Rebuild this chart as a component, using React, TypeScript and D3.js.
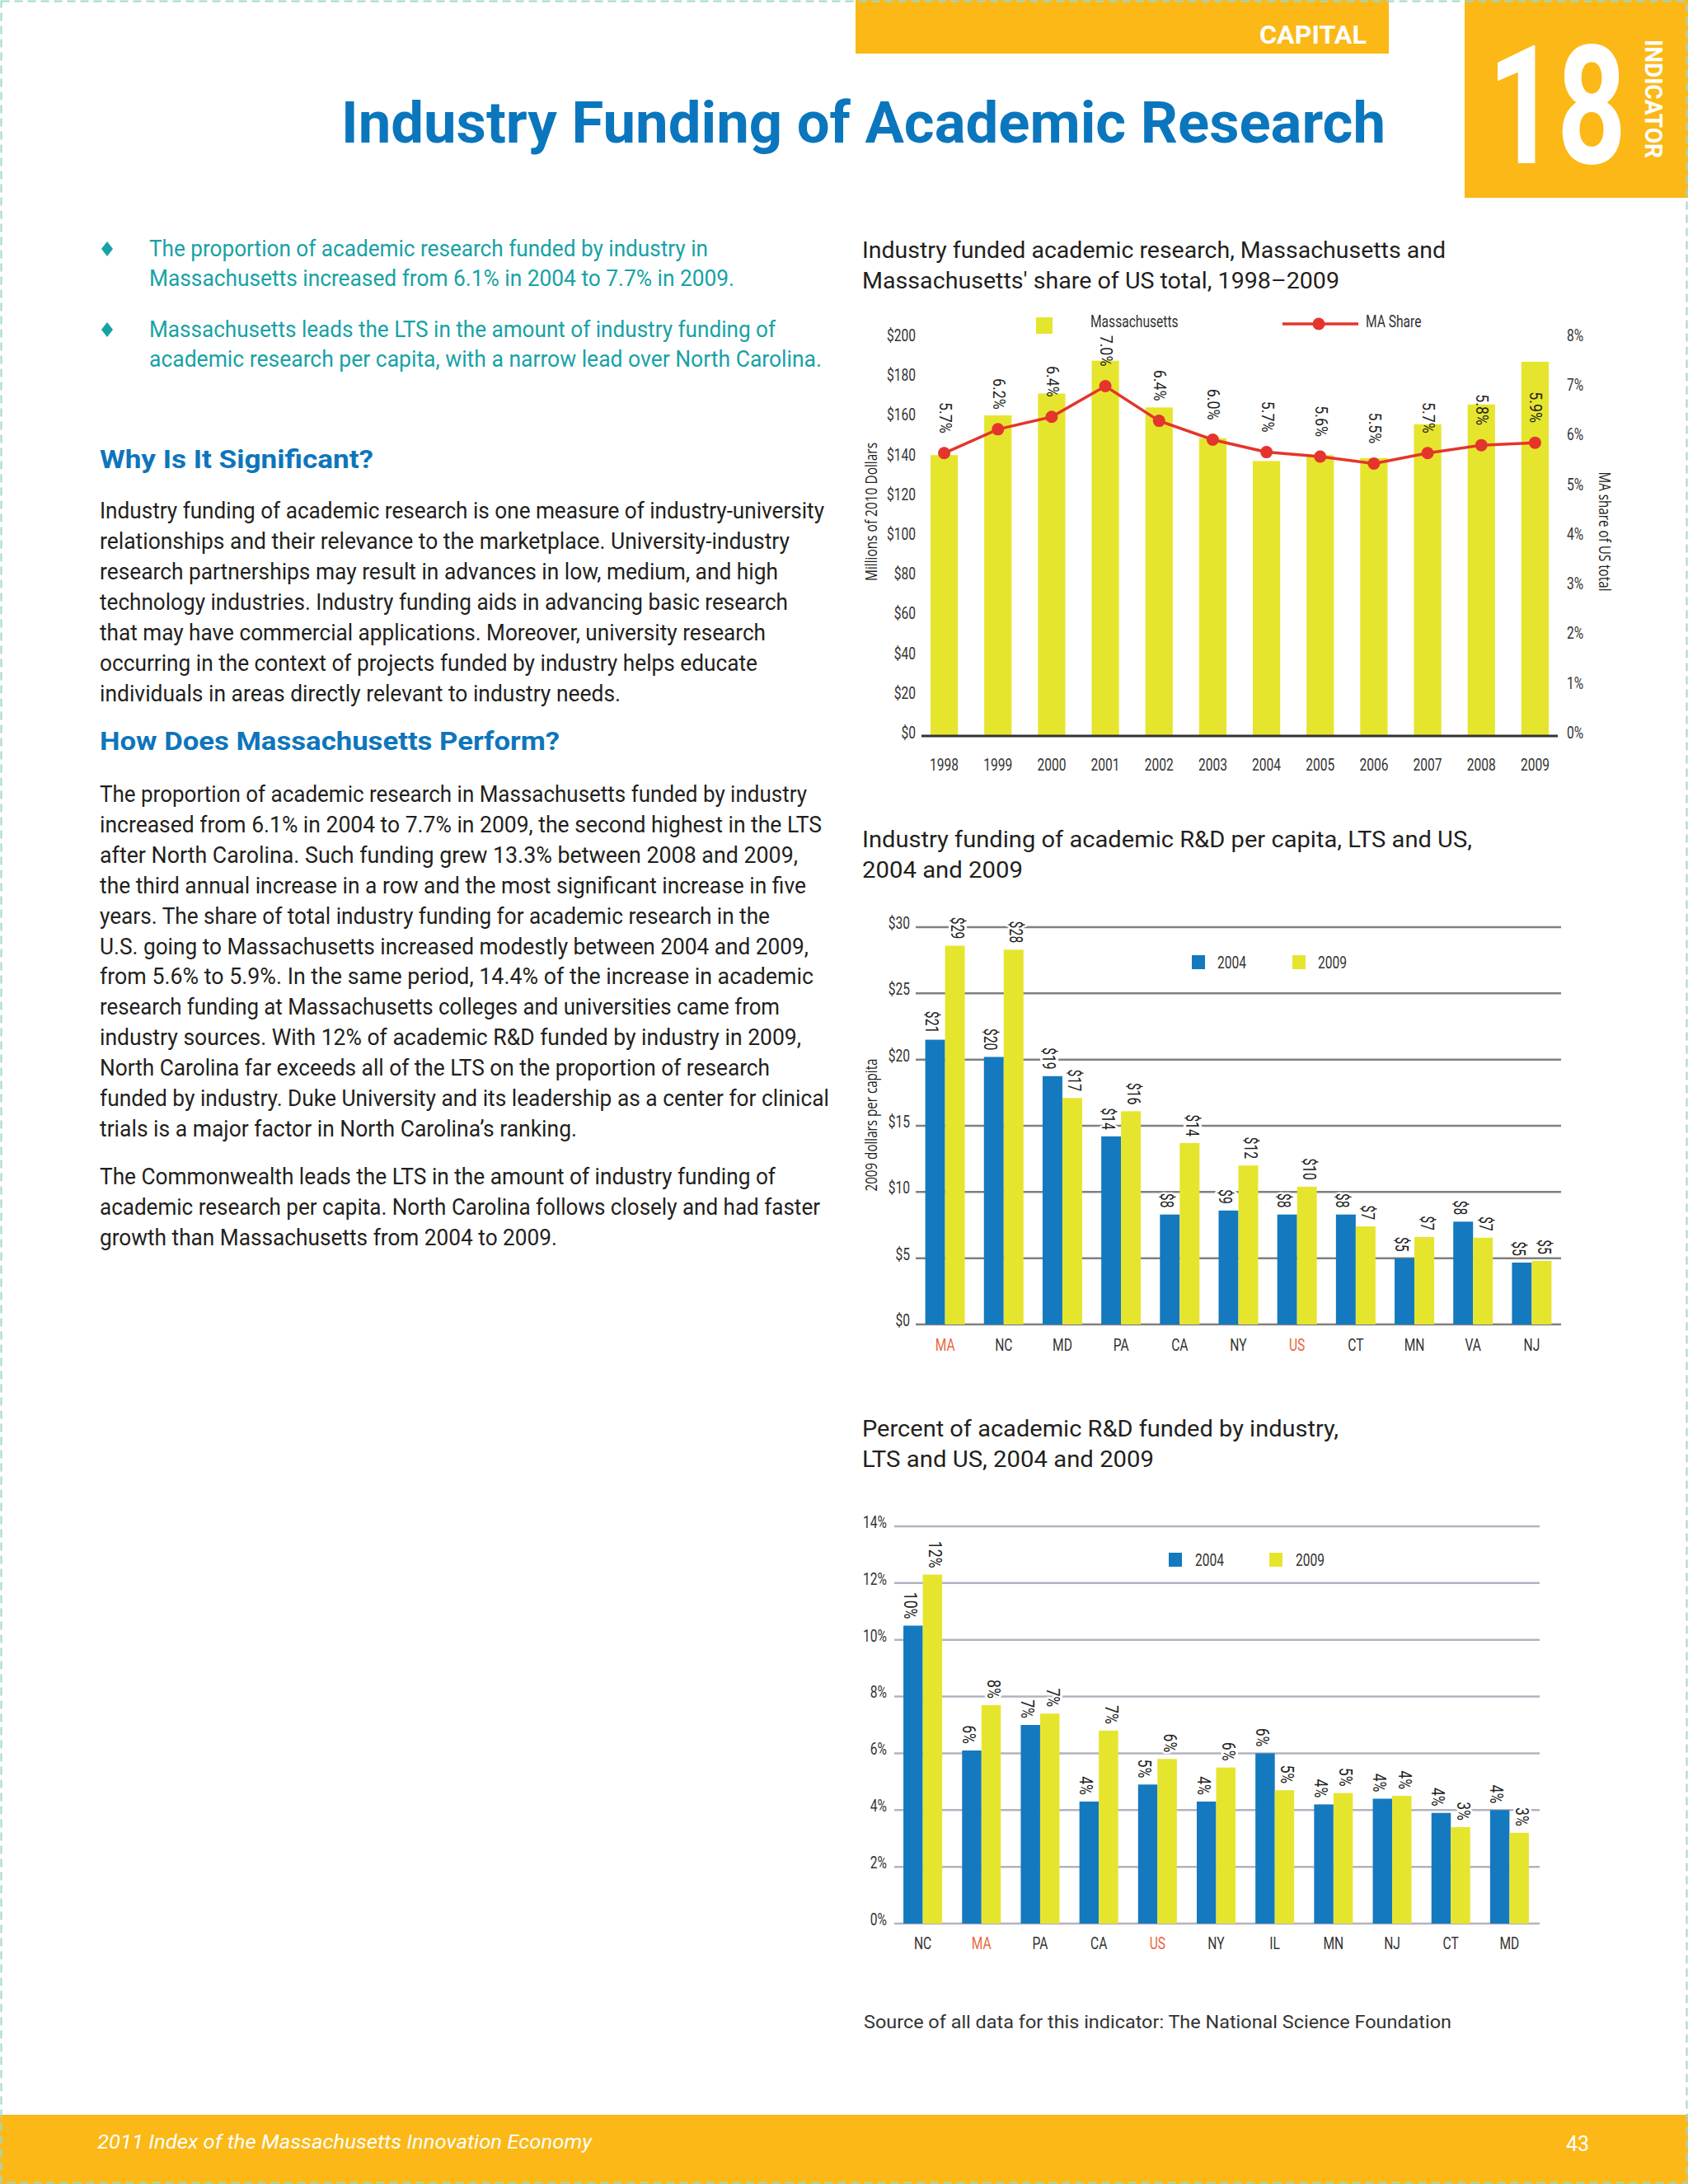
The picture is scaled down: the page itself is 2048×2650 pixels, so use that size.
import React, { useEffect, useRef } from "react";
import * as d3 from "d3";

// chart 1: industry funded academic research, Massachusetts, 1998-2009
const years = ["1998", "1999", "2000", "2001", "2002", "2003", "2004", "2005", "2006", "2007", "2008", "2009"];
const maFunding = [141, 161, 172, 188.5, 165, 149.5, 138, 141, 139.5, 156.5, 166.5, 188];
const maShare = [5.68, 6.16, 6.41, 7.03, 6.33, 5.95, 5.7, 5.61, 5.47, 5.68, 5.84, 5.89];
const maShareLabels = ["5.7%", "6.2%", "6.4%", "7.0%", "6.4%", "6.0%", "5.7%", "5.6%", "5.5%", "5.7%", "5.8%", "5.9%"];
const fundingTicks = [0, 20, 40, 60, 80, 100, 120, 140, 160, 180, 200];
const shareTicks = [0, 1, 2, 3, 4, 5, 6, 7, 8];

// chart 2: industry funding of academic R&D per capita
const perCapitaStates = ["MA", "NC", "MD", "PA", "CA", "NY", "US", "CT", "MN", "VA", "NJ"];
const perCapita2004 = [21.5, 20.2, 18.75, 14.2, 8.3, 8.6, 8.3, 8.3, 5.0, 7.76, 4.67];
const perCapita2009 = [28.6, 28.3, 17.1, 16.1, 13.7, 12.0, 10.4, 7.4, 6.6, 6.55, 4.8];
const perCapitaLabels2004 = ["$21", "$20", "$19", "$14", "$8", "$9", "$8", "$8", "$5", "$8", "$5"];
const perCapitaLabels2009 = ["$29", "$28", "$17", "$16", "$14", "$12", "$10", "$7", "$7", "$7", "$5"];
const perCapitaTicks = [0, 5, 10, 15, 20, 25, 30];

// chart 3: percent of academic R&D funded by industry
const shareStates = ["NC", "MA", "PA", "CA", "US", "NY", "IL", "MN", "NJ", "CT", "MD"];
const industryShare2004 = [10.5, 6.1, 7.0, 4.3, 4.9, 4.3, 6.0, 4.2, 4.4, 3.9, 4.0];
const industryShare2009 = [12.3, 7.7, 7.4, 6.8, 5.8, 5.5, 4.7, 4.6, 4.5, 3.4, 3.2];
const industryShareLabels2004 = ["10%", "6%", "7%", "4%", "5%", "4%", "6%", "4%", "4%", "4%", "4%"];
const industryShareLabels2009 = ["12%", "8%", "7%", "7%", "6%", "6%", "5%", "5%", "4%", "3%", "3%"];
const industryShareTicks = [0, 2, 4, 6, 8, 10, 12, 14];

const highlighted = ["MA", "US"];

// page text
const bullets = [
  ["The proportion of academic research funded by industry in", "Massachusetts increased from 6.1% in 2004 to 7.7% in 2009."],
  ["Massachusetts leads the LTS in the amount of industry funding of", "academic research per capita, with a narrow lead over North Carolina."],
];
const whySignificant = [
  "Industry funding of academic research is one measure of industry-university",
  "relationships and their relevance to the marketplace. University-industry",
  "research partnerships may result in advances in low, medium, and high",
  "technology industries. Industry funding aids in advancing basic research",
  "that may have commercial applications. Moreover, university research",
  "occurring in the context of projects funded by industry helps educate",
  "individuals in areas directly relevant to industry needs.",
];
const howPerform = [
  "The proportion of academic research in Massachusetts funded by industry",
  "increased from 6.1% in 2004 to 7.7% in 2009, the second highest in the LTS",
  "after North Carolina. Such funding grew 13.3% between 2008 and 2009,",
  "the third annual increase in a row and the most significant increase in five",
  "years. The share of total industry funding for academic research in the",
  "U.S. going to Massachusetts increased modestly between 2004 and 2009,",
  "from 5.6% to 5.9%. In the same period, 14.4% of the increase in academic",
  "research funding at Massachusetts colleges and universities came from",
  "industry sources. With 12% of academic R&D funded by industry in 2009,",
  "North Carolina far exceeds all of the LTS on the proportion of research",
  "funded by industry. Duke University and its leadership as a center for clinical",
  "trials is a major factor in North Carolina\u2019s ranking.",
];
const commonwealth = [
  "The Commonwealth leads the LTS in the amount of industry funding of",
  "academic research per capita. North Carolina follows closely and had faster",
  "growth than Massachusetts from 2004 to 2009.",
];

// line end positions (layout)
const bulletEnds = [[859, 891], [941, 997]];
const whyEnds = [1000, 958, 944, 956, 929, 919, 753];
const howEnds = [979, 997, 968, 978, 934, 981, 987, 946, 972, 934, 1006, 700];
const commonEnds = [941, 995, 676];

const W = 2048;
const H = 2650;
const ORANGE = "#fbb817";
const YELLOW = "#e6e52e";
const BLUE = "#1479bf";
const RED = "#e4352c";
const TEXT = "#231f20";
const AXIS_TEXT = "#333";
const HILITE = "#e8673d";
const FONT = "Roboto, 'Liberation Sans', sans-serif";
const TITLE_FONT = "'Open Sans', Roboto, sans-serif";

function label(parent: any, str: string, x: number, y: number, o: any = {}) {
  const t = parent
    .append("text")
    .attr("x", x)
    .attr("y", y)
    .attr("font-family", o.family || FONT)
    .attr("font-size", o.size || 20)
    .attr("font-weight", o.weight || 400)
    .attr("fill", o.fill || TEXT)
    .attr("text-anchor", o.anchor || "start")
    .text(str);
  if (o.width) t.attr("textLength", o.width).attr("lengthAdjust", "spacingAndGlyphs");
  if (o.baseline) t.attr("dominant-baseline", o.baseline);
  if (o.italic) t.attr("font-style", "italic");
  if (o.sx) {
    t.attr("x", 0)
      .attr("y", 0)
      .attr("transform", `translate(${x},${y}) rotate(${o.rotate || 0}) scale(${o.sx},1)`);
  } else if (o.rotate) {
    t.attr("transform", `rotate(${o.rotate},${x},${y})`);
  }
  return t;
}

function styleAxis(g: any, sx = 0.78, size = 20) {
  g.select(".domain").remove();
  g.selectAll("text")
    .attr("font-family", FONT)
    .attr("font-size", size)
    .attr("fill", AXIS_TEXT)
    .attr("transform", `scale(${sx},1)`);
}

function paragraph(svg: any, lines: string[], ends: number[], x: number, y0: number, step: number, o: any) {
  lines.forEach((l, i) => {
    label(svg, l, x, y0 + i * step, { ...o, width: ends[i] - x });
  });
}

function drawPage(svg: any) {
  svg.append("rect").attr("width", W).attr("height", H).attr("fill", "#fff");

  // header
  svg.append("rect").attr("x", 1038).attr("y", 0).attr("width", 647).attr("height", 65).attr("fill", ORANGE);
  label(svg, "CAPITAL", 1658, 53, { size: 32, weight: 700, fill: "#fff", anchor: "end", width: 130 });
  svg.append("rect").attr("x", 1777).attr("y", 0).attr("width", 271).attr("height", 240).attr("fill", ORANGE);
  label(svg, "18", 1805, 198, { size: 200, weight: 700, fill: "#fff", width: 168 });
  label(svg, "INDICATOR", 2006, 48, { size: 30, weight: 700, fill: "#fff", width: 144, rotate: 90, baseline: "central" });

  label(svg, "Industry Funding of Academic Research", 414, 173, { size: 70, weight: 700, fill: "#0a76bd", width: 1267 });

  // bullets
  bullets.forEach((b, i) => {
    const by = [311, 409][i];
    const cy = by - 9;
    svg
      .append("path")
      .attr("d", `M130,${cy - 9} L137,${cy} L130,${cy + 9} L123,${cy} Z`)
      .attr("fill", "#17a2a6");
    paragraph(svg, b, bulletEnds[i], 181, by, 36, { size: 28, fill: "#17a2a6" });
  });

  label(svg, "Why Is It Significant?", 121, 568, { size: 31, weight: 700, fill: "#0e75bb", width: 332 });
  paragraph(svg, whySignificant, whyEnds, 121, 629, 37, { size: 28, fill: TEXT });
  label(svg, "How Does Massachusetts Perform?", 121, 910, { size: 31, weight: 700, fill: "#0e75bb", width: 558 });
  paragraph(svg, howPerform, howEnds, 121, 973, 36.9, { size: 28, fill: TEXT });
  paragraph(svg, commonwealth, commonEnds, 121, 1437, 37, { size: 28, fill: TEXT });

  // chart titles and source
  label(svg, "Industry funded academic research, Massachusetts and", 1046, 313, { size: 27, width: 708 });
  label(svg, "Massachusetts' share of US total, 1998\u20132009", 1046, 350, { size: 27, width: 579 });
  label(svg, "Industry funding of academic R&D per capita, LTS and US,", 1046, 1028, { size: 27, width: 740 });
  label(svg, "2004 and 2009", 1046, 1065, { size: 27, width: 195 });
  label(svg, "Percent of academic R&D funded by industry,", 1046, 1743, { size: 27, width: 578 });
  label(svg, "LTS and US, 2004 and 2009", 1046, 1780, { size: 27, width: 354 });
  label(svg, "Source of all data for this indicator: The National Science Foundation", 1048, 2461, {
    size: 22,
    fill: "#333",
    width: 713,
  });

  // footer
  svg.append("rect").attr("x", 0).attr("y", 2566).attr("width", W).attr("height", H - 2566).attr("fill", ORANGE);
  label(svg, "2011 Index of the Massachusetts Innovation Economy", 118, 2607, {
    size: 24,
    fill: "#fff",
    italic: true,
    width: 600,
  });
  label(svg, "43", 1928, 2610, { size: 25, fill: "#fff", anchor: "end" });
}

function drawFundingChart(svg: any) {
  const x = d3.scaleBand().domain(years).range([1113, 1895]).paddingInner(0.49).paddingOuter(0.245);
  const yFund = d3.scaleLinear().domain([0, 200]).range([892, 410]);
  const yShare = d3.scaleLinear().domain([0, 8]).range([892, 410]);
  const cx = (d: string) => (x(d) as number) + x.bandwidth() / 2;

  svg
    .append("g")
    .selectAll("rect")
    .data(years)
    .join("rect")
    .attr("x", (d: string) => x(d))
    .attr("width", x.bandwidth())
    .attr("y", (_: string, i: number) => yFund(maFunding[i]))
    .attr("height", (_: string, i: number) => yFund(0) - yFund(maFunding[i]))
    .attr("fill", YELLOW);

  svg
    .append("line")
    .attr("x1", 1118)
    .attr("x2", 1890)
    .attr("y1", 893)
    .attr("y2", 893)
    .attr("stroke", "#333")
    .attr("stroke-width", 3);

  const line = d3
    .line<number>()
    .x((_, i) => cx(years[i]))
    .y((d) => yShare(d));
  svg.append("path").datum(maShare).attr("fill", "none").attr("stroke", RED).attr("stroke-width", 3.5).attr("d", line);
  svg
    .append("g")
    .selectAll("circle")
    .data(maShare)
    .join("circle")
    .attr("cx", (_: number, i: number) => cx(years[i]))
    .attr("cy", (d: number) => yShare(d))
    .attr("r", 7.5)
    .attr("fill", RED);

  maShare.forEach((v, i) => {
    label(svg, maShareLabels[i], cx(years[i]) + 1, yShare(v) - 24, {
      size: 21,
      fill: "#222",
      anchor: "end",
      baseline: "central",
      rotate: 90,
      sx: 0.85,
    });
  });

  const left = svg
    .append("g")
    .attr("transform", "translate(1111,-3)")
    .call(d3.axisLeft(yFund).tickValues(fundingTicks).tickSize(0).tickPadding(0).tickFormat((d: any) => `$${d}`));
  styleAxis(left);
  const right = svg
    .append("g")
    .attr("transform", "translate(1901,-3)")
    .call(d3.axisRight(yShare).tickValues(shareTicks).tickSize(0).tickPadding(0).tickFormat((d: any) => `${d}%`));
  styleAxis(right);
  const bottom = svg
    .append("g")
    .attr("transform", "translate(0,921)")
    .call(d3.axisBottom(x).tickSize(0).tickPadding(0));
  styleAxis(bottom);

  label(svg, "Millions of 2010 Dollars", 1056, 621, {
    family: TITLE_FONT,
    size: 20,
    anchor: "middle",
    baseline: "central",
    rotate: -90,
    width: 168,
  });
  label(svg, "MA share of US total", 1947, 645, {
    family: TITLE_FONT,
    size: 20,
    anchor: "middle",
    baseline: "central",
    rotate: 90,
    width: 145,
  });

  // legend
  svg.append("rect").attr("x", 1257).attr("y", 385).attr("width", 20).attr("height", 20).attr("fill", YELLOW);
  label(svg, "Massachusetts", 1323, 390, { size: 20, sx: 0.78, baseline: "central", fill: AXIS_TEXT });
  svg
    .append("line")
    .attr("x1", 1556)
    .attr("x2", 1648)
    .attr("y1", 393)
    .attr("y2", 393)
    .attr("stroke", RED)
    .attr("stroke-width", 3.5);
  svg.append("circle").attr("cx", 1600).attr("cy", 393).attr("r", 7.5).attr("fill", RED);
  label(svg, "MA Share", 1657, 390, { size: 20, sx: 0.78, baseline: "central", fill: AXIS_TEXT });
}

interface GroupedConfig {
  states: string[];
  v2004: number[];
  v2009: number[];
  l2004: string[];
  l2009: string[];
  ticks: number[];
  fmt: (d: any) => string;
  max: number;
  left: number;
  right: number;
  top: number;
  bottom: number;
  barW: number;
  gridFrom: number;
  gridTo: number;
  gridColor: string;
  tickRight: number;
  catTop: number;
  legendX: number;
  legendY: number;
  legendDx: number;
  labelSx: number;
}

function drawGrouped(svg: any, c: GroupedConfig) {
  const x0 = d3.scaleBand().domain(c.states).range([c.left, c.right]);
  const step = x0.step();
  const x1 = d3
    .scaleBand()
    .domain(["2004", "2009"])
    .range([step / 2 - c.barW, step / 2 + c.barW]);
  const y = d3.scaleLinear().domain([0, c.max]).range([c.bottom, c.top]);

  // gridlines
  svg
    .append("g")
    .selectAll("line")
    .data(c.ticks)
    .join("line")
    .attr("x1", c.gridFrom)
    .attr("x2", c.gridTo)
    .attr("y1", (d: number) => y(d))
    .attr("y2", (d: number) => y(d))
    .attr("stroke", c.gridColor)
    .attr("stroke-width", 2.5);

  const yAxis = svg
    .append("g")
    .attr("transform", `translate(${c.tickRight},-5)`)
    .call(d3.axisLeft(y).tickValues(c.ticks).tickSize(0).tickPadding(0).tickFormat(c.fmt));
  styleAxis(yAxis);

  const series = [
    { key: "2004", values: c.v2004, labels: c.l2004, color: BLUE, dx: -4 },
    { key: "2009", values: c.v2009, labels: c.l2009, color: YELLOW, dx: 3 },
  ];

  series.forEach((s) => {
    svg
      .append("g")
      .selectAll("rect")
      .data(c.states)
      .join("rect")
      .attr("x", (d: string) => (x0(d) as number) + (x1(s.key) as number))
      .attr("width", x1.bandwidth())
      .attr("y", (_: string, i: number) => y(s.values[i]))
      .attr("height", (_: string, i: number) => y(0) - y(s.values[i]))
      .attr("fill", s.color);
  });

  series.forEach((s) => {
    c.states.forEach((st, i) => {
      const bx = (x0(st) as number) + (x1(s.key) as number) + x1.bandwidth() / 2 + s.dx;
      label(svg, s.labels[i], bx, y(s.values[i]) - 8, {
        size: 22,
        fill: "#222",
        anchor: "end",
        baseline: "central",
        rotate: 90,
        sx: c.labelSx,
      })
        .attr("stroke", "#fff")
        .attr("stroke-width", 6)
        .attr("stroke-linejoin", "round")
        .attr("paint-order", "stroke");
    });
  });

  const xAxis = svg
    .append("g")
    .attr("transform", `translate(0,${c.catTop})`)
    .call(d3.axisBottom(x0).tickSize(0).tickPadding(0));
  styleAxis(xAxis);
  xAxis.selectAll("text").attr("fill", (d: string) => (highlighted.includes(d) ? HILITE : AXIS_TEXT));

  // legend
  series.forEach((s, i) => {
    const lx = c.legendX + i * 122;
    svg.append("rect").attr("x", lx).attr("y", c.legendY).attr("width", 16).attr("height", 17).attr("fill", s.color);
    label(svg, s.key, lx + c.legendDx, c.legendY + 8.5, { size: 20, sx: 0.78, baseline: "central", fill: AXIS_TEXT });
  });
}

function drawPerCapitaChart(svg: any) {
  drawGrouped(svg, {
    states: perCapitaStates,
    v2004: perCapita2004,
    v2009: perCapita2009,
    l2004: perCapitaLabels2004,
    l2009: perCapitaLabels2009,
    ticks: perCapitaTicks,
    fmt: (d) => `$${d}`,
    max: 30,
    left: 1111,
    right: 1894,
    top: 1125,
    bottom: 1607,
    barW: 24,
    gridFrom: 1111,
    gridTo: 1894,
    gridColor: "#808080",
    tickRight: 1104,
    catTop: 1625,
    legendX: 1446,
    legendY: 1159,
    legendDx: 31,
    labelSx: 0.72,
  });
  label(svg, "2009 dollars per capita", 1056, 1365, {
    family: TITLE_FONT,
    size: 20,
    anchor: "middle",
    baseline: "central",
    rotate: -90,
    width: 161,
  });
}

function drawIndustryShareChart(svg: any) {
  drawGrouped(svg, {
    states: shareStates,
    v2004: industryShare2004,
    v2009: industryShare2009,
    l2004: industryShareLabels2004,
    l2009: industryShareLabels2009,
    ticks: industryShareTicks,
    fmt: (d) => `${d}%`,
    max: 14,
    left: 1084,
    right: 1867,
    top: 1852,
    bottom: 2334,
    barW: 23.5,
    gridFrom: 1085,
    gridTo: 1868,
    gridColor: "#b3b3bf",
    tickRight: 1076,
    catTop: 2351,
    legendX: 1418,
    legendY: 1884,
    legendDx: 32,
    labelSx: 0.8,
  });
}

export default function App() {
  const ref = useRef<HTMLDivElement>(null);

  useEffect(() => {
    const el = ref.current;
    if (!el) return;
    d3.select(el).selectAll("*").remove();
    const svg = d3
      .select(el)
      .append("svg")
      .attr("width", W)
      .attr("height", H)
      .attr("viewBox", `0 0 ${W} ${H}`)
      .style("display", "block");

    drawPage(svg);
    drawFundingChart(svg);
    drawPerCapitaChart(svg);
    drawIndustryShareChart(svg);

    // dashed page trim
    svg
      .append("rect")
      .attr("x", 1.5)
      .attr("y", 1.5)
      .attr("width", W - 3)
      .attr("height", H - 3)
      .attr("fill", "none")
      .attr("stroke", "#9fd8cc")
      .attr("stroke-width", 2)
      .attr("stroke-dasharray", "10 6");
  }, []);

  return <div ref={ref} style={{ position: "absolute", left: 0, top: 0, width: W, height: H, background: "#fff" }} />;
}
